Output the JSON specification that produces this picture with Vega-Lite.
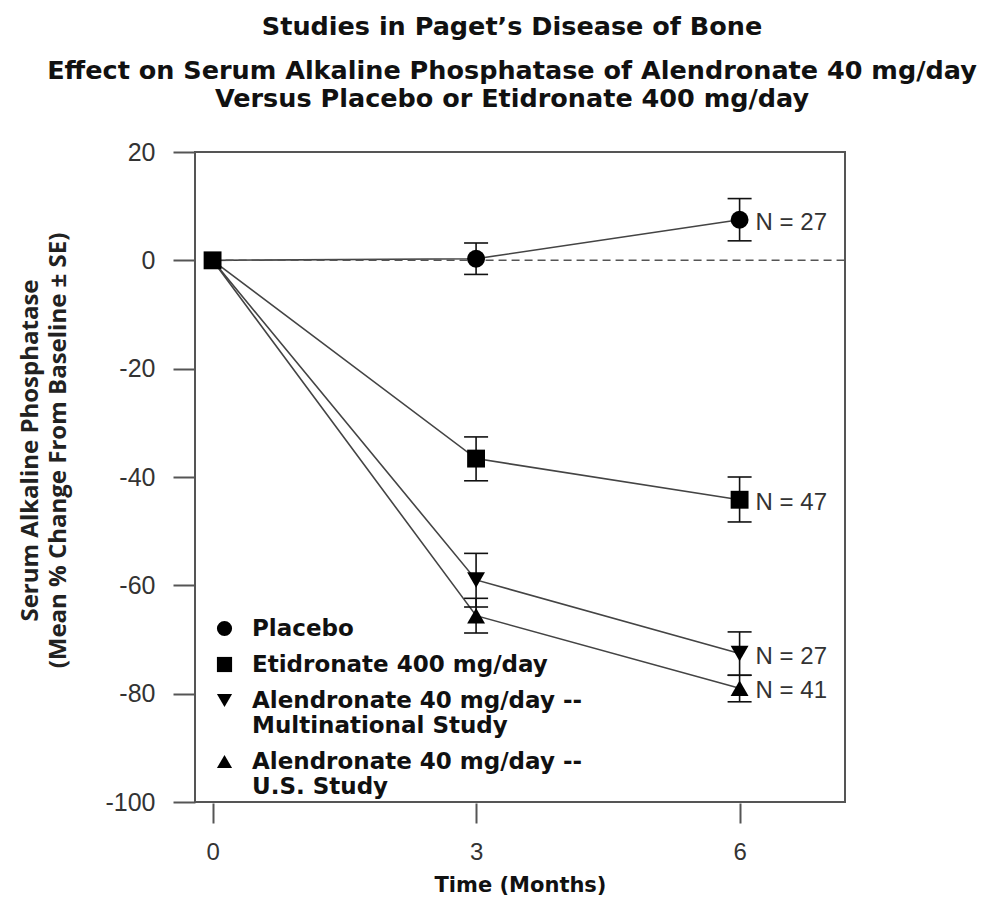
{
  "$schema": "https://vega.github.io/schema/vega-lite/v6.json",
  "width": 650,
  "height": 650,
  "autosize": {"type": "none"},
  "padding": {"left": 195, "top": 152, "right": 147, "bottom": 105},
  "background": "white",
  "title": {
    "text": "Studies in Paget’s Disease of Bone",
    "subtitle": ["Effect on Serum Alkaline Phosphatase of Alendronate 40 mg/day", "Versus Placebo or Etidronate 400 mg/day"],
    "anchor": "middle",
    "dx": -8,
    "font": "DejaVu Sans",
    "fontSize": 25.5,
    "fontWeight": "bold",
    "color": "#111",
    "subtitleFont": "DejaVu Sans",
    "subtitleFontSize": 25.5,
    "subtitleFontWeight": "bold",
    "subtitleColor": "#111",
    "subtitlePadding": 18,
    "subtitleLineHeight": 28,
    "offset": 28
  },
  "config": {
    "view": {"stroke": "#555", "strokeWidth": 2},
    "axisX": {
      "domain": false, "grid": false, "offset": 1,
      "tickSize": 20, "tickColor": "#555", "tickWidth": 2,
      "labelFont": "Liberation Sans", "labelFontSize": 24, "labelColor": "#333", "labelPadding": 17,
      "titleFont": "DejaVu Sans", "titleFontSize": 21, "titleFontWeight": "bold", "titleColor": "#111", "titlePadding": 10
    },
    "axisY": {
      "domain": false, "grid": false,
      "tickSize": 22, "tickColor": "#555", "tickWidth": 2,
      "labelFont": "Liberation Sans", "labelFontSize": 25, "labelColor": "#333", "labelPadding": 18,
      "titleFont": "Open Sans", "titleFontSize": 24, "titleFontWeight": "bold", "titleColor": "#222",
      "titleLineHeight": 28, "titlePadding": 34
    },
    "legend": {
      "orient": "none",
      "legendX": 18,
      "legendY": 465,
      "title": null,
      "labelFont": "DejaVu Sans",
      "labelFontSize": 23,
      "labelFontWeight": "bold",
      "labelColor": "#111",
      "labelLimit": 0,
      "labelLineHeight": 25,
      "labelOffset": 16,
      "symbolFillColor": "black",
      "symbolStrokeColor": "black",
      "symbolSize": 230,
      "rowPadding": 12,
      "padding": 0
    }
  },
  "data": {
    "values": [
      {"series": "Placebo", "time": 0, "mean": 0, "lo": null, "hi": null, "n": null},
      {"series": "Placebo", "time": 3, "mean": 0.3, "lo": -2.6, "hi": 3.2, "n": null},
      {"series": "Placebo", "time": 6, "mean": 7.5, "lo": 3.6, "hi": 11.4, "n": "N = 27"},
      {"series": "Etidronate 400 mg/day", "time": 0, "mean": 0, "lo": null, "hi": null, "n": null},
      {"series": "Etidronate 400 mg/day", "time": 3, "mean": -36.6, "lo": -40.7, "hi": -32.6, "n": null},
      {"series": "Etidronate 400 mg/day", "time": 6, "mean": -44.2, "lo": -48.3, "hi": -40.0, "n": "N = 47"},
      {"series": "Alendronate 40 mg/day -- Multinational Study", "time": 0, "mean": 0, "lo": null, "hi": null, "n": null},
      {"series": "Alendronate 40 mg/day -- Multinational Study", "time": 3, "mean": -59.0, "lo": -64.0, "hi": -54.1, "n": null},
      {"series": "Alendronate 40 mg/day -- Multinational Study", "time": 6, "mean": -72.6, "lo": -76.6, "hi": -68.6, "n": "N = 27"},
      {"series": "Alendronate 40 mg/day -- U.S. Study", "time": 0, "mean": 0, "lo": null, "hi": null, "n": null},
      {"series": "Alendronate 40 mg/day -- U.S. Study", "time": 3, "mean": -65.6, "lo": -68.8, "hi": -62.4, "n": null},
      {"series": "Alendronate 40 mg/day -- U.S. Study", "time": 6, "mean": -79.0, "lo": -81.5, "hi": -76.6, "n": "N = 41"}
    ]
  },
  "layer": [
    {
      "mark": {"type": "line", "color": "#444", "strokeWidth": 1.6},
      "encoding": {
        "x": {
          "field": "time", "type": "quantitative",
          "scale": {"domain": [-0.2, 7.2], "nice": false, "zero": false},
          "axis": {"values": [0, 3, 6], "title": "Time (Months)", "labelExpr": "'' + datum.value"}
        },
        "y": {
          "field": "mean", "type": "quantitative",
          "scale": {"domain": [-100, 20], "nice": false},
          "axis": {
            "values": [20, 0, -20, -40, -60, -80, -100],
            "labelExpr": "'' + datum.value",
            "title": ["Serum Alkaline Phosphatase", "(Mean % Change From Baseline ± SE)"],
            "titleY": 298
          }
        },
        "detail": {"field": "series"}
      }
    },
    {
      "data": {"values": [{}]},
      "mark": {"type": "rule", "strokeDash": [8, 5], "color": "#555", "strokeWidth": 1.5},
      "encoding": {
        "x": {"datum": 0, "type": "quantitative"},
        "x2": {"datum": 7.2},
        "y": {"datum": 0, "type": "quantitative"}
      }
    },
    {
      "transform": [{"filter": "datum.lo != null"}],
      "mark": {"type": "rule", "color": "#111", "strokeWidth": 1.6},
      "encoding": {
        "x": {"field": "time", "type": "quantitative"},
        "y": {"field": "lo", "type": "quantitative"},
        "y2": {"field": "hi"}
      }
    },
    {
      "transform": [{"filter": "datum.lo != null"}],
      "mark": {"type": "tick", "orient": "horizontal", "color": "#111", "size": 24, "thickness": 1.6, "opacity": 1},
      "encoding": {
        "x": {"field": "time", "type": "quantitative"},
        "y": {"field": "lo", "type": "quantitative"}
      }
    },
    {
      "transform": [{"filter": "datum.lo != null"}],
      "mark": {"type": "tick", "orient": "horizontal", "color": "#111", "size": 24, "thickness": 1.6, "opacity": 1},
      "encoding": {
        "x": {"field": "time", "type": "quantitative"},
        "y": {"field": "hi", "type": "quantitative"}
      }
    },
    {
      "transform": [{"filter": "datum.time > 0 || datum.series == 'Etidronate 400 mg/day'"}],
      "mark": {"type": "point", "filled": true, "size": 320, "opacity": 1, "color": "black"},
      "encoding": {
        "x": {"field": "time", "type": "quantitative"},
        "y": {"field": "mean", "type": "quantitative"},
        "shape": {
          "field": "series", "type": "nominal",
          "scale": {
            "domain": ["Placebo", "Etidronate 400 mg/day", "Alendronate 40 mg/day -- Multinational Study", "Alendronate 40 mg/day -- U.S. Study"],
            "range": ["circle", "square", "triangle-down", "triangle-up"]
          },
          "legend": {"labelExpr": "split(replace(datum.label, '-- ', '--|'), '|')"}
        }
      }
    },
    {
      "transform": [{"filter": "datum.n != null"}],
      "mark": {"type": "text", "align": "left", "baseline": "middle", "dx": 16, "dy": 3, "font": "Liberation Sans", "fontSize": 24, "color": "#333"},
      "encoding": {
        "x": {"field": "time", "type": "quantitative"},
        "y": {"field": "mean", "type": "quantitative"},
        "text": {"field": "n"}
      }
    }
  ]
}
